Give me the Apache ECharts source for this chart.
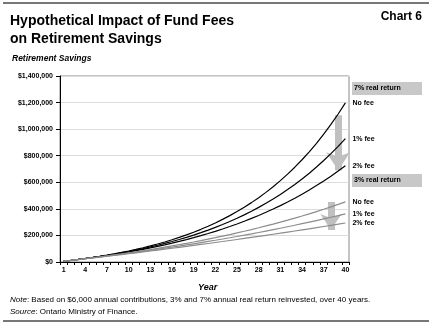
<!DOCTYPE html>
<html><head><meta charset="utf-8">
<script src="https://cdn.jsdelivr.net/npm/echarts@6/dist/echarts.min.js"></script>
<style>html,body{margin:0;padding:0;background:#fff}#c{width:432px;height:326px}</style>
</head><body><div id="c"></div>
<script>
const years = ['1','2','3','4','5','6','7','8','9','10','11','12','13','14','15','16','17','18','19','20','21','22','23','24','25','26','27','28','29','30','31','32','33','34','35','36','37','38','39','40'];
const yTicks = [0,200000,400000,600000,800000,1000000,1200000,1400000];
const r7NoFee = [6000,12420,19289,26640,34505,42920,51924,61559,71868,82899,94702,107331,120844,135303,150774,167328,185041,203994,224274,245973,269191,294034,320617,349060,379494,412059,446903,484186,524079,566765,612438,661309,713601,769553,829421,893481,962024,1035366,1113842,1197811];
const r7Fee1 = [6000,12360,19102,26248,33823,41852,50363,59385,68948,79085,89830,101220,113293,126090,139656,154035,169277,185434,202560,220714,239956,260354,281975,304894,329187,354938,382235,411169,441839,474349,508810,545339,584059,625103,668609,714725,763609,815425,870351,928572];
const r7Fee2 = [6000,12300,18915,25861,33154,40812,48852,57295,66159,75467,85241,95503,106278,117592,129471,141945,155042,168794,183234,198396,214316,231031,248583,267012,286363,306681,328015,350415,373936,398633,424565,451793,480383,510402,541922,575018,609769,646257,684570,724799];
const r3NoFee = [6000,12180,18545,25102,31855,38810,45975,53354,60955,68783,76847,85152,93707,102518,111593,120941,130570,140487,150701,161222,172059,183221,194717,206559,218756,231318,244258,257586,271313,285452,300016,315017,330467,346381,362772,379656,397045,414957,433405,452408];
const r3Fee1 = [6000,12120,18362,24730,31224,37849,44606,51498,58528,65698,73012,80473,88082,95844,103760,111836,120072,128474,137043,145784,154700,163794,173070,182531,192182,202025,212066,222307,232754,243409,254277,265362,276669,288203,299967,311966,324206,336690,349424,362412];
const r3Fee2 = [6000,12060,18181,24362,30606,36912,43281,49714,56211,62773,69401,76095,82856,89684,96581,103547,110582,117688,124865,132114,139435,146830,154298,161841,169459,177154,184925,192775,200702,208709,216796,224965,233214,241546,249962,258461,267046,275716,284474,293318];
const arrow7 = {year:'39', from:1105000, to:690000, head:18};
const arrow3 = {year:'38', from:452000, to:241000, head:16};

const F = '"Liberation Sans", Arial, sans-serif';
const chart = echarts.init(document.getElementById('c'), null, {renderer:'canvas'});

function line(name, data, color, lbl, marks) {
  const s = {
    name, type:'line', data, symbol:'none', smooth:false,
    lineStyle:{color, width:1.2}, itemStyle:{color},
    endLabel:{show:true, formatter:lbl, distance:7, color:'#000', fontFamily:F, fontSize:7, fontWeight:'bold'},
    z: 3
  };
  if (marks) s.markLine = marks;
  return s;
}
function arrowMark(a) {
  return {
    silent:true, symbol:['none','arrow'], symbolSize:[a.head,a.head],
    label:{show:false}, lineStyle:{color:'#c0c0c0', width:7, type:'solid'},
    data:[[{coord:[a.year, a.from]},{coord:[a.year, a.to]}]], z:1
  };
}

chart.setOption({
  animation:false,
  textStyle:{fontFamily:F},
  grid:{left:60, right:83, top:76, bottom:64, show:true, borderColor:'#888', borderWidth:1},
  xAxis:{
    type:'category', data:years, boundaryGap:true,
    axisLine:{lineStyle:{color:'#000', width:1}},
    axisTick:{show:true, interval:0, length:3, lineStyle:{color:'#000'}},
    axisLabel:{interval:2, color:'#000', fontSize:7, fontWeight:'bold', margin:5, fontFamily:F},
    splitLine:{show:false}
  },
  yAxis:{
    type:'value', min:0, max:1400000, interval:200000,
    axisLine:{show:true, lineStyle:{color:'#000', width:1}},
    axisTick:{show:true, length:4, lineStyle:{color:'#000'}},
    axisLabel:{color:'#000', fontSize:7, fontWeight:'bold', margin:7, fontFamily:F,
      formatter:v => '$' + v.toLocaleString('en-US')},
    splitLine:{show:true, lineStyle:{color:'#dcdcdc', width:1}}
  },
  series:[
    line('7% No fee', r7NoFee, '#000', 'No fee', arrowMark(arrow7)),
    line('7% 1% fee', r7Fee1, '#000', '1% fee'),
    line('7% 2% fee', r7Fee2, '#000', '2% fee'),
    line('3% No fee', r3NoFee, '#8c8c8c', 'No fee', arrowMark(arrow3)),
    line('3% 1% fee', r3Fee1, '#8c8c8c', '1% fee'),
    line('3% 2% fee', r3Fee2, '#8c8c8c', '2% fee')
  ],
  graphic:[
    {type:'line', shape:{x1:3,y1:3,x2:429,y2:3}, style:{stroke:'#777', lineWidth:2}},
    {type:'line', shape:{x1:3,y1:321,x2:429,y2:321}, style:{stroke:'#777', lineWidth:2}},
    {type:'text', left:10, top:12, style:{text:'Hypothetical Impact of Fund Fees\non Retirement Savings', font:'bold 14px '+F, fill:'#000', lineHeight:18}},
    {type:'text', right:10, top:11, style:{text:'Chart 6', font:'bold 12px '+F, fill:'#000'}},
    {type:'text', left:12, top:54, style:{text:'Retirement Savings', font:'italic bold 8.5px '+F, fill:'#000'}},
    {type:'rect', shape:{x:352,y:82,width:70,height:13}, style:{fill:'#c8c8c8'}},
    {type:'text', left:354, top:85, style:{text:'7% real return', font:'bold 7px '+F, fill:'#000'}},
    {type:'rect', shape:{x:352,y:174,width:70,height:13}, style:{fill:'#c8c8c8'}},
    {type:'text', left:354, top:177, style:{text:'3% real return', font:'bold 7px '+F, fill:'#000'}},
    {type:'text', left:198, top:283, style:{text:'Year', font:'italic bold 9px '+F, fill:'#000'}},
    {type:'text', left:10, top:296, style:{text:'{i|Note}: Based on $6,000 annual contributions, 3% and 7% annual real return reinvested, over 40 years.', font:'8px '+F, fill:'#000', rich:{i:{fontStyle:'italic', fontSize:8, fontFamily:F}}}},
    {type:'text', left:10, top:308, style:{text:'{i|Source}: Ontario Ministry of Finance.', font:'8px '+F, fill:'#000', rich:{i:{fontStyle:'italic', fontSize:8, fontFamily:F}}}}
  ]
});
</script></body></html>
